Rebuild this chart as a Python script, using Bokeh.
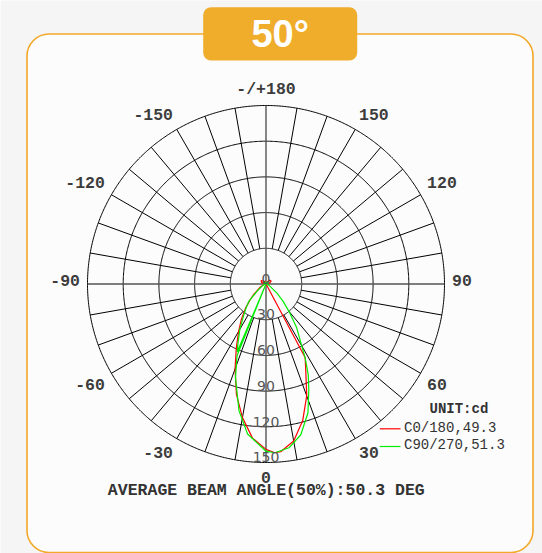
import numpy as np
from bokeh.plotting import figure
from bokeh.models import Range1d, BoxAnnotation
from bokeh.core.properties import value
from bokeh.embed import file_html
from bokeh.resources import INLINE

# ---------------- data ----------------
title_text = "50°"
red_name = "C0/180,49.3"
green_name = "C90/270,51.3"
unit_text = "UNIT:cd"
footer_text = "AVERAGE BEAM ANGLE(50%):50.3 DEG"

radial_ticks = [0, 30, 60, 90, 120, 150]
angle_ticks = [180, 150, 120, 90, 60, 30, 0, -30, -60, -90, -120, -150]
angle_tick_labels = ["-/+180", "150", "120", "90", "60", "30", "0",
                     "-30", "-60", "-90", "-120", "-150"]

red_gamma = [-180, -160, -140, -125, -110, -95, -90, -75, -60, -50,
             -45, -40, -35, -30, -25, -20, -15, -10, -5, 0,
             3, 5, 10, 15, 20, 25, 28, 29, 35, 50,
             70, 90, 105, 120, 135, 150, 165, 180]
red_cd = [1.0, 1.5, 3.5, 5.0, 4.0, 1.5, 1.0, 2.0, 6.0, 13.0,
          19.0, 27.0, 36.0, 46.0, 59.0, 76.0, 96.0, 114.0, 130.0, 139.0,
          142.0, 141.5, 134.0, 119.0, 100.0, 79.0, 70.0, 1.0, 1.0, 1.0,
          1.0, 1.0, 3.0, 5.0, 4.5, 2.0, 1.0, 1.0]

green_gamma = [-180, -150, -125, -105, -90, -70, -60, -52, -45, -40,
               -35, -30, -25, -23, -22.5, -22, -18, -12, -7, 0,
               3, 8, 13, 18, 22, 25, 28, 30, 35, 40,
               45, 50, 60, 75, 90, 110, 130, 155, 180]
green_cd = [1.0, 1.5, 2.5, 1.5, 0.5, 2.0, 4.0, 9.0, 20.0, 26.0,
            33.0, 44.0, 56.0, 62.0, 0.5, 65.0, 83.0, 109.0, 127.0, 140.5,
            142.0, 139.0, 130.0, 114.0, 96.0, 84.0, 70.0, 60.0, 45.0, 30.0,
            20.0, 12.0, 4.0, 1.5, 0.5, 2.0, 2.5, 1.5, 1.0]

# ---------------- layout ----------------
W, H = 542, 553
OFF = 0                        # page offset of the canvas
CX, CY = 265.5, 283.5          # polar centre in canvas pixels
RPX = 178.5                    # outer circle radius in pixels
RMAX = radial_ticks[-1]
K = RPX / RMAX                 # pixels per cd
BASE_FIX = 0.34                # baseline correction (em) for svg text

MONO = value("Liberation Mono")


def sx(X):  # reference page px -> data x
    return (X - OFF - CX) / K


def sy(Y):  # reference page px -> data y
    return (CY - (Y - OFF)) / K


def fix(fs):  # upward correction in data units for a font size in px
    return BASE_FIX * fs / K


def pol(g_deg, r):
    g = np.radians(np.asarray(g_deg, dtype=float))
    r = np.asarray(r, dtype=float)
    return r * np.sin(g), -r * np.cos(g)


p = figure(width=W, height=H,
           x_range=Range1d(-CX / K, (W - CX) / K),
           y_range=Range1d(-(H - CY) / K, CY / K),
           output_backend="svg", toolbar_location=None,
           x_axis_location=None, y_axis_location=None, min_border=0)
p.grid.visible = False
p.outline_line_color = None
p.background_fill_color = "#f5f5f5"
p.border_fill_color = "#f5f5f5"

# card and title box
card = BoxAnnotation(left=sx(26.5), right=sx(532.5), top=sy(33.5), bottom=sy(552),
                     fill_color="#fcfcfc", fill_alpha=1.0,
                     line_color="#F3A829", line_alpha=1.0, line_width=1.6,
                     border_radius=22, level="underlay")
p.add_layout(card)
tbox = BoxAnnotation(left=sx(202.7), right=sx(356.7), top=sy(6.7), bottom=sy(60),
                     fill_color="#F0AC2B", fill_alpha=1.0, line_color=None,
                     border_radius=8, level="underlay")
p.add_layout(tbox)
p.text(x=[sx(279.7)], y=[sy(46.7) + fix(38)], text=[title_text],
       text_font=value("Liberation Sans"), text_font_style="bold",
       text_font_size="38px", text_color="white",
       text_align="center", text_baseline="alphabetic")

# grid circles
t = np.linspace(0, 2 * np.pi, 721)
for r in radial_ticks[1:]:
    p.line(r * np.cos(t), r * np.sin(t), line_color="black", line_width=1)

# spokes every 10 degrees (from first circle outward)
for a in range(0, 360, 10):
    if a % 90 == 0:
        continue
    xs, ys = pol([a, a], [radial_ticks[1], RMAX])
    p.line(xs, ys, line_color="black", line_width=1)

# main axes through centre
xs, ys = pol([0, 180], [RMAX, RMAX])
p.line(xs, ys, line_color="#555555", line_width=1.4)
xs, ys = pol([90, -90], [RMAX, RMAX])
p.line(xs, ys, line_color="#555555", line_width=1.4)

# curves
rx, ry = pol(red_gamma, red_cd)
p.line(rx, ry, line_color="#ff0000", line_width=1.2)
gx, gy = pol(green_gamma, green_cd)
p.line(gx, gy, line_color="#00ee00", line_width=1.2)

# radial labels (on the downward axis, baseline on each circle)
p.text(x=[0] * len(radial_ticks), y=[-r + 0.5 / K + fix(14) for r in radial_ticks],
       text=[str(r) for r in radial_ticks],
       text_font=value("DejaVu Sans"), text_font_size="14px",
       text_color="#555555", text_align="center", text_baseline="alphabetic")

# angle labels
AFS = 16.5
RA = 186.0 / K
CAP = AFS * 0.659
groups = {}
for a, lab in zip(angle_ticks, angle_tick_labels):
    s, c = np.sin(np.radians(a)), np.cos(np.radians(a))
    x = RA * s
    y_px = RA * c * K          # downward screen offset of anchor from centre
    if s > 0.01:
        al = "left"
    elif s < -0.01:
        al = "right"
    else:
        al = "center"
    if c < -0.01:
        base = y_px - 2.65
    elif c > 0.01:
        base = y_px + 2.6 + CAP
    else:
        base = y_px + 2.0
    groups.setdefault(al, ([], [], []))
    groups[al][0].append(x)
    groups[al][1].append(-base / K + fix(AFS))
    groups[al][2].append(lab)
for al, (xs_, ys_, ts_) in groups.items():
    p.text(x=xs_, y=ys_, text=ts_, text_font=MONO, text_font_style="bold",
           text_font_size=f"{AFS}px", text_color="#3c3c3c",
           text_align=al, text_baseline="alphabetic")

# footer
p.text(x=[sx(265.8)], y=[sy(496) + fix(16.5)], text=[footer_text], text_font=MONO,
       text_font_style="bold", text_font_size="16.5px", text_color="#333333",
       text_align="center", text_baseline="alphabetic")

# legend
p.text(x=[sx(429)], y=[sy(413.6) + fix(14)], text=[unit_text], text_font=MONO,
       text_font_style="bold", text_font_size="14px", text_color="#333333",
       text_align="left", text_baseline="alphabetic")
p.line([sx(379.3), sx(400)], [sy(428.3), sy(428.3)], line_color="#ff0000", line_width=1.2)
p.line([sx(379.3), sx(400)], [sy(446), sy(446)], line_color="#00ee00", line_width=1.2)
p.text(x=[sx(403.5), sx(403.5)], y=[sy(431.9) + fix(14), sy(449.6) + fix(14)],
       text=[red_name, green_name],
       text_font=MONO, text_font_size="14px", text_color="#333333",
       text_align="left", text_baseline="alphabetic")

open("out.html", "w").write(file_html(p, INLINE))
